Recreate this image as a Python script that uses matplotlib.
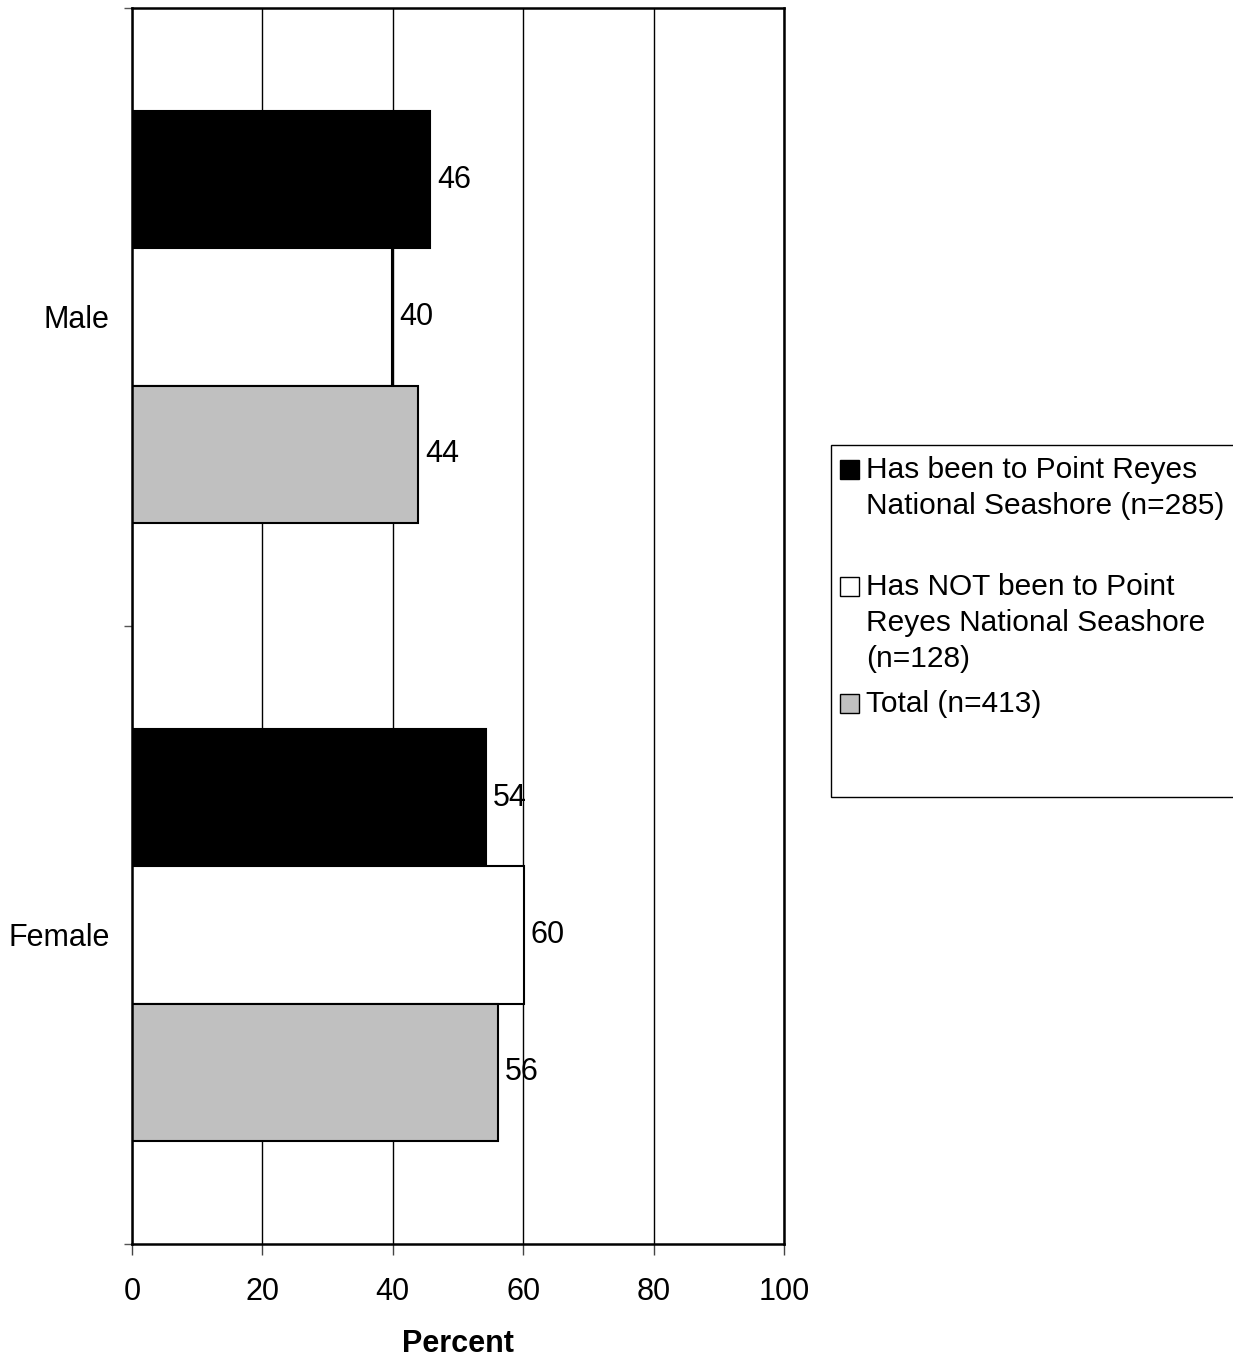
#!/usr/bin/env python3

"""Gender of respondents, by visit to Point Reyes National Seashore."""

import numpy as np
import matplotlib.pyplot as plt
from matplotlib.patches import Rectangle

plt.rcParams['font.family'] = ['Liberation Sans', 'DejaVu Sans']

FS = 22
LEG_FS = 21.5

# * Data

categories = ["Male", "Female"]
series_names = [
    "Has been to Point Reyes\nNational Seashore (n=285)",
    "Has NOT been to Point\nReyes National Seashore\n(n=128)",
    "Total (n=413)",
]
has_been = [45.7, 54.3]
has_not_been = [39.9, 60.1]
total = [43.9, 56.1]
colors = ["#000000", "#ffffff", "#c0c0c0"]

# * Figure

W, H = 1233, 1361
fig = plt.figure(figsize=(12.33, 13.61), dpi=100)
ax = fig.add_axes([132 / W, 1 - 1244 / H, 652 / W, 1236 / H])

centers = np.arange(len(categories)) + 0.5
h = 0.222
offsets = [-h, 0, h]

for vals, off, col in zip([has_been, has_not_been, total], offsets, colors):
    bars = ax.barh(centers + off, vals, height=h, color=col,
                   edgecolor="black", linewidth=1.5, zorder=3)
    for b, v in zip(bars, vals):
        ax.annotate("{:.0f}".format(v), (b.get_width(), b.get_y() + h / 2),
                    xytext=(5, 0), textcoords="offset points",
                    ha="left", va="center", fontsize=FS, zorder=4)

ax.set_xlim(0, 100)
ax.set_ylim(2, 0)
ax.set_xticks(np.arange(0, 101, 20))
ax.tick_params(axis="x", labelsize=FS, length=8, width=1, color="#444444", pad=16)
ax.set_yticks(centers)
ax.set_yticklabels(categories)
ax.tick_params(axis="y", which="major", length=0, labelsize=FS, pad=16)
ax.set_yticks([0, 1, 2], minor=True)
ax.tick_params(axis="y", which="minor", length=6, width=1, color="#555555")
ax.xaxis.grid(True, color="black", linewidth=1, zorder=0)
for s in ax.spines.values():
    s.set_linewidth(1.8)
    s.set_zorder(5)
ax.set_xlabel("Percent", fontsize=FS, fontweight="bold")
ax.xaxis.set_label_coords(0.5, 1 - (1344 - 8) / 1236)
ax.xaxis.label.set_va("center")

# * Legend box (drawn by hand to mimic the spreadsheet layout)

fig.patches.append(Rectangle((831 / W, 1 - 797 / H), 410 / W, 352 / H,
                             transform=fig.transFigure, facecolor="white",
                             edgecolor="black", linewidth=1))
entry_first_line = [470, 587, 704]
line_step = 36
for name, col, y0 in zip(series_names, colors, entry_first_line):
    fig.patches.append(Rectangle((840 / W, 1 - (y0 + 9) / H), 19 / W, 19 / H,
                                 transform=fig.transFigure, facecolor=col,
                                 edgecolor="black", linewidth=1))
    for i, line in enumerate(name.split("\n")):
        fig.text(866 / W, 1 - (y0 + i * line_step) / H, line, fontsize=LEG_FS,
                 va="center", ha="left")

fig.savefig("out.png", dpi=100)
